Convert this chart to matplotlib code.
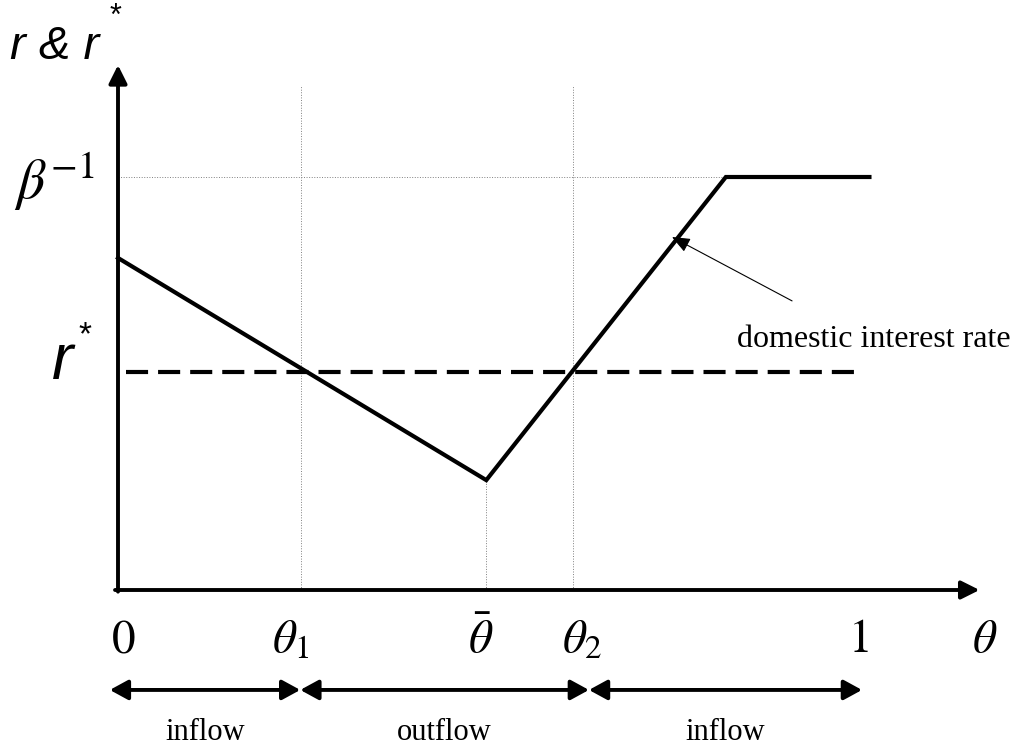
import matplotlib.pyplot as plt
import numpy as np

plt.rcParams['mathtext.fontset'] = 'stix'

# kinked domestic interest rate and world rate
theta_pts = [0.0, 0.495, 0.817, 1.01]
r_pts = [0.804, 0.266, 1.0, 1.0]
r_star = 0.528
beta_inv = 1.0
theta1, theta_bar, theta2 = 0.246, 0.495, 0.612

label_x = [0.007, 0.2325, 0.488, 0.6237, 0.9946, 1.165]
x_labels = [r'$0$', r'$\theta_1$', r'$\bar{\theta}$', r'$\theta_2$', r'$1$', r'$\theta$']
flow_edges = [-0.011, 0.245, 0.633, 1.0]
flow_labels = ['inflow', 'outflow', 'inflow']

fig = plt.figure(figsize=(10.21, 7.46), dpi=100)
ax = fig.add_axes([0, 0, 1, 1])
ax.set_xlim(-118/744, (1021-118)/744)
ax.set_ylim(-156/413, 590/413)
ax.axis('off')

axis_arrow = dict(arrowstyle='-|>,head_length=1.1,head_width=0.55',
                  lw=2.8, color='black', shrinkA=0, shrinkB=0)
# axes with arrows
ax.annotate('', xy=(0, 1.271), xytext=(0, -0.004), arrowprops=axis_arrow)
ax.annotate('', xy=(1.158, 0), xytext=(-0.004, 0), arrowprops=axis_arrow)

# dotted guide lines
ax.plot([theta1, theta1], [0, 1.223], color='gray', lw=0.7, ls=':')
ax.plot([theta2, theta2], [0, 1.223], color='gray', lw=0.7, ls=':')
ax.plot([theta_bar, theta_bar], [0, r_pts[1]], color='gray', lw=0.7, ls=':')
ax.plot([0, theta_pts[2]], [beta_inv, beta_inv], color='gray', lw=0.7, ls=':')

# curves
ax.plot(theta_pts, r_pts, color='black', lw=3, solid_joinstyle='miter')
ax.plot([0.011, 1.0], [r_star, r_star], color='black', lw=3, dashes=(5.3, 2.4))

# annotation
ax.annotate('', xy=(0.7446, 0.8547), xytext=(0.906, 0.700),
            arrowprops=dict(arrowstyle='-|>,head_length=1.1,head_width=0.45',
                            lw=0.8, color='black', shrinkA=0, shrinkB=0))
ax.text(1.016, 0.588, 'domestic interest rate', fontsize=23,
        family='Liberation Serif', ha='center', va='baseline')

# y labels
ax.text(-0.1452, 1.315, 'r & r', fontsize=34, family='Liberation Sans',
        style='italic', ha='left', va='center')
ax.text(-0.004, 1.424, '*', fontsize=22, family='Liberation Sans', ha='center', va='top')
ax.text(-0.075, 0.552, 'r', fontsize=46, family='Liberation Sans',
        style='italic', ha='center', va='center')
ax.text(-0.044, 0.615, '*', fontsize=24, family='Liberation Sans', ha='center', va='center')
ax.text(-0.085, 0.99, r'$\beta^{-1}$', fontsize=40, ha='center', va='center')

# x labels
for xt, lab in zip(label_x, x_labels):
    ax.text(xt, -0.121, lab, fontsize=34, ha='center', va='center')

# flow ranges
for a, b, lab in zip(flow_edges[:-1], flow_edges[1:], flow_labels):
    ax.annotate('', xy=(b, -0.242), xytext=(a, -0.242),
                arrowprops=dict(arrowstyle='<|-|>,head_length=1.1,head_width=0.6',
                                lw=2.8, color='black', shrinkA=0, shrinkB=0))
    ax.text((a + b) / 2, -0.344, lab, fontsize=22, family='Liberation Serif',
            ha='center', va='center')

fig.savefig('out.png', dpi=100)
